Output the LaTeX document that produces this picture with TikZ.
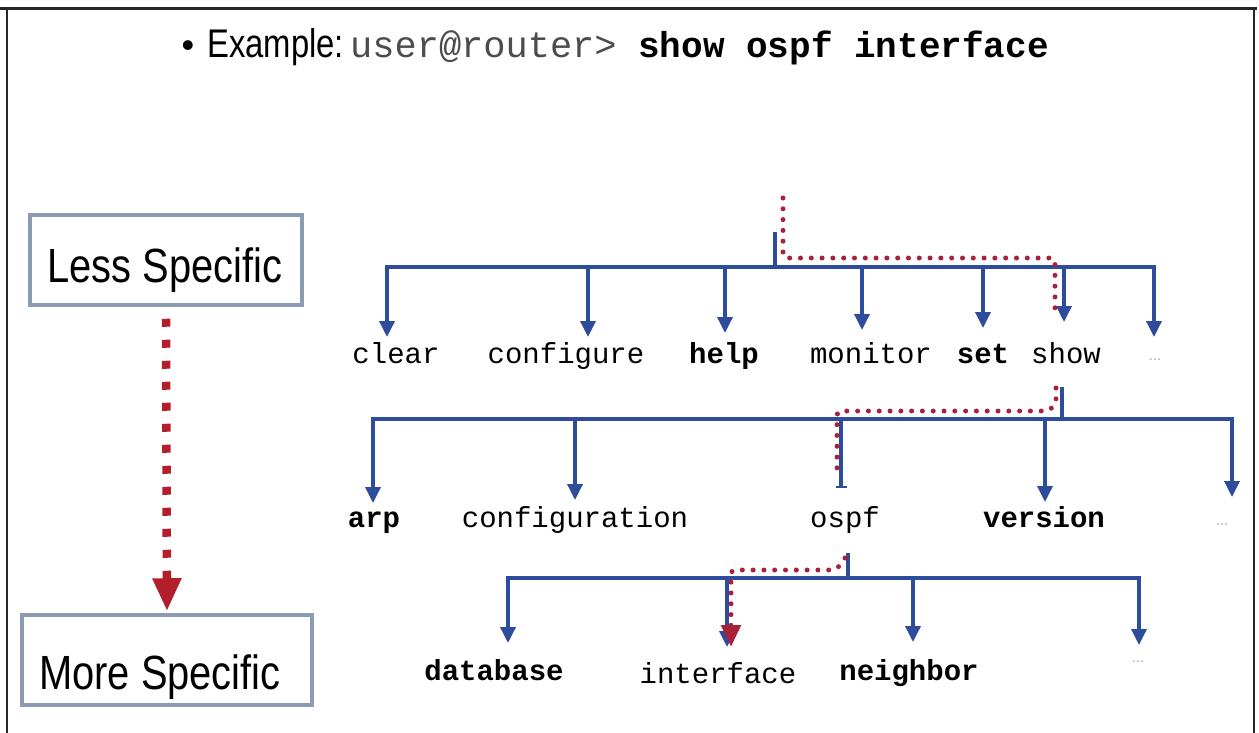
\documentclass[tikz,border=0pt]{standalone}
\usepackage{fontspec}
\setmainfont{Liberation Sans}
\setmonofont{Liberation Mono}
\newfontfamily\boxfont[FakeStretch=0.83]{Liberation Sans}
\newfontfamily\titlefont[FakeStretch=0.82]{Liberation Sans}
\usetikzlibrary{arrows.meta}
\definecolor{treeblue}{HTML}{2E4C9C}
\definecolor{pathred}{HTML}{A8213A}
\definecolor{arrred}{HTML}{B31E2B}
\definecolor{boxedge}{HTML}{8A9BB3}
\tikzset{
  tree/.style={draw=treeblue, line width=3.5pt, line join=miter},
  tip/.tip={Triangle[width=15pt,length=16pt]},
  treearr/.style={tree, -tip},
  treearr2/.style={tree, tip-tip},
  redpath/.style={draw=pathred, line width=5pt, line cap=round, dash pattern=on 0pt off 10.8pt, rounded corners=4pt},
  lbl/.style={font=\fontsize{29}{30}\selectfont\ttfamily, anchor=base, inner sep=0pt},
  lblb/.style={lbl, font=\fontsize{29}{30}\selectfont\ttfamily\bfseries},
  moredots/.style={font=\fontsize{15}{15}\selectfont, text=black!35, inner sep=0pt},
  levelbox/.style={draw=boxedge, line width=3.5pt, fill=white, inner sep=0pt},
  boxtext/.style={font=\fontsize{48}{48}\selectfont\boxfont, anchor=base, inner sep=0pt},
  bigred/.style={draw=arrred, line width=8.5pt, dash pattern=on 8pt off 13pt, -{Triangle[width=27pt,length=33pt]}}
}
\begin{document}
\begin{tikzpicture}[x=1pt,y=-1pt]
\useasboundingbox (0,0) rectangle (1259,733);
\fill[white] (0,0) rectangle (1259,733);
% frame
\draw[line width=3pt, black!85] (0,9) -- (1257,9);
\draw[line width=2pt, black!85] (7,9) -- (7,733);
\draw[line width=2pt, black!85] (1254,9) -- (1254,733);

% title
\node[anchor=base, inner sep=0pt, font=\fontsize{36}{36}\selectfont] (bul) at (188,58) {•};
\node[anchor=base west, inner sep=0pt, font=\fontsize{40}{40}\selectfont\titlefont] (ex) at (207,58) {Example:};
\node[anchor=base west, inner sep=0pt, font=\fontsize{37}{37}\selectfont\ttfamily, text=black!70] (usr) at (350,58) {user@router>};
\node[anchor=base west, inner sep=0pt, font=\fontsize{36}{36}\selectfont\ttfamily\bfseries] (cmd) at (638,58) {show ospf interface};

% left boxes
\node[levelbox, minimum width=272pt, minimum height=90pt] (less) at (166,260) {};
\node[boxtext] (lesst) at (165,282) {Less Specific};
\node[levelbox, minimum width=290pt, minimum height=90pt] (more) at (167,660) {};
\node[boxtext] (moret) at (160,689) {More Specific};
\draw[bigred] ([yshift=-12pt]less.south) -- ([yshift=2pt]more.north);

% ---------- level 1 ----------
\node[lbl]  (clear) at (396,363) {clear};
\node[lbl]  (configure) at (566,363) {configure};
\node[lblb] (help) at (724,363) {help};
\node[lbl]  (monitor) at (871,363) {monitor};
\node[lblb] (set) at (983,363) {set};
\node[lbl]  (show) at (1066,363) {show};
\node[moredots] (dotsA) at (1155,360) {...};

\coordinate (r1top) at (775,232);
\coordinate (r1) at (775,267);
\draw[tree] (r1top) -- (r1);
\draw[treearr2] (387,337) -- (387,267) -- (1154,267) -- (1154,337);
\draw[treearr] (588,267) -- (588,337);
\draw[treearr] (725,267) -- (725,333);
\draw[treearr] (862,267) -- (862,330);
\draw[treearr] (983,267) -- (983,328);
\draw[treearr] (1064,267) -- (1064,322);

% ---------- level 2 ----------
\node[lblb] (arp) at (374,527) {arp};
\node[lbl]  (configuration) at (575,527) {configuration};
\node[lbl]  (ospf) at (845,527) {ospf};
\node[lblb] (version) at (1044,527) {version};
\node[moredots] (dotsB) at (1222,525) {...};

\draw[tree] (1062,387) -- (1062,419);
\draw[treearr2] (373,503) -- (373,419) -- (1232,419) -- (1232,497);
\draw[treearr] (575,419) -- (575,500);
\draw[tree] (841,419) -- (841,487);
\draw[draw=treeblue, line width=1.5pt] (836,487) -- (847,487);
\draw[treearr] (1045,419) -- (1045,502);

% ---------- level 3 ----------
\node[lblb] (database) at (494,680) {database};
\node[lbl]  (interface) at (718,683) {interface};
\node[lblb] (neighbor) at (909,680) {neighbor};
\node[moredots] (dotsC) at (1138,662) {...};

\draw[tree] (848,553) -- (848,578);
\draw[treearr2] (508,643) -- (508,578) -- (1139,578) -- (1139,645);
\draw[treearr] (727,578) -- (727,647);
\draw[treearr] (913,578) -- (913,642);

% ---------- red path ----------
\draw[redpath] (783,198) -- (783,258) -- (1055,258) -- (1055,318);
\draw[redpath] (1056,388) -- (1056,403) -- (1049,411) -- (837,411) -- (837,478);
\draw[redpath, -{Triangle[width=19pt,length=22pt,fill=arrred]}] (845,558) -- (836,570) -- (731,570) -- (731,647);
\end{tikzpicture}
\end{document}
